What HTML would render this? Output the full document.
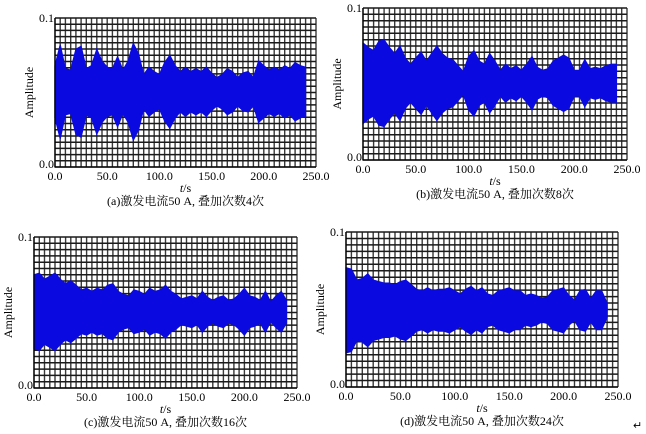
<!DOCTYPE html>
<html><head><meta charset="utf-8"><style>
html,body{margin:0;padding:0;background:#fff;}
svg{display:block;font-family:"Liberation Serif","Noto Serif CJK SC","Noto Sans CJK SC",serif;}
</style></head><body>
<svg id="fig" width="646" height="434" viewBox="0 0 646 434"></svg>
<script>
const tickValues=[0,50,100,150,200,250];
const times=[];for(let i=0;i<=48;i++)times.push(i*5);
const upperA=[.068,.082,.066,.065,.079,.081,.066,.068,.079,.071,.067,.066,.074,.065,.071,.083,.076,.062,.067,.064,.062,.070,.075,.068,.064,.067,.064,.066,.064,.067,.063,.060,.062,.066,.064,.060,.063,.064,.060,.071,.068,.065,.067,.065,.068,.066,.070,.068,.067];
const lowerA=[.033,.019,.035,.036,.022,.020,.035,.033,.022,.030,.034,.035,.027,.036,.030,.018,.025,.039,.034,.037,.039,.031,.026,.033,.037,.034,.037,.035,.037,.034,.038,.041,.039,.035,.037,.041,.038,.037,.041,.030,.033,.036,.034,.036,.033,.035,.031,.033,.034];
const upperB=[.077,.074,.072,.078,.079,.074,.070,.075,.067,.063,.067,.071,.065,.070,.075,.070,.067,.066,.062,.058,.068,.072,.065,.063,.070,.065,.059,.063,.060,.062,.059,.063,.068,.061,.059,.060,.065,.067,.069,.067,.059,.059,.066,.060,.061,.060,.062,.063,.063];
const lowerB=[.024,.027,.029,.023,.022,.027,.031,.026,.034,.038,.034,.030,.036,.031,.026,.031,.034,.035,.039,.043,.033,.029,.036,.038,.031,.036,.042,.038,.041,.039,.042,.038,.033,.040,.042,.041,.036,.034,.032,.034,.042,.042,.035,.041,.040,.041,.039,.038,.038];
const upperC=[.075,.076,.072,.074,.076,.072,.069,.071,.068,.065,.066,.064,.066,.065,.068,.069,.064,.062,.061,.065,.064,.062,.066,.064,.065,.068,.064,.062,.059,.060,.061,.059,.064,.060,.058,.060,.061,.058,.059,.062,.066,.061,.060,.058,.064,.057,.061,.064,.058];
const lowerC=[.026,.025,.029,.027,.025,.029,.032,.030,.033,.036,.035,.037,.035,.036,.033,.032,.037,.039,.040,.036,.037,.039,.035,.037,.036,.033,.037,.039,.042,.041,.040,.042,.037,.041,.043,.041,.040,.043,.042,.039,.035,.040,.041,.043,.037,.044,.040,.037,.043];
const upperD=[.077,.076,.069,.070,.073,.069,.068,.067,.067,.066,.068,.069,.066,.063,.062,.064,.062,.063,.063,.064,.062,.060,.063,.065,.062,.064,.060,.059,.062,.063,.064,.062,.062,.059,.060,.059,.057,.058,.062,.063,.064,.059,.056,.062,.063,.057,.062,.062,.054];
const lowerD=[.022,.023,.030,.029,.026,.030,.031,.032,.032,.033,.031,.030,.033,.036,.037,.035,.037,.036,.036,.035,.037,.039,.036,.034,.037,.035,.039,.040,.037,.036,.035,.037,.037,.040,.039,.040,.042,.041,.037,.036,.035,.040,.043,.037,.036,.042,.037,.037,.045];
const captions=["(a)激发电流50 A, 叠加次数4次","(b)激发电流50 A, 叠加次数8次","(c)激发电流50 A, 叠加次数16次","(d)激发电流50 A, 叠加次数24次"];
const panels=[
 {id:'a',l:55,t:18,r:316,b:167,up:upperA,lo:lowerA,cap:captions[0]},
 {id:'b',l:363,t:8,r:627,b:160,up:upperB,lo:lowerB,cap:captions[1]},
 {id:'c',l:34,t:237,r:297,b:388,up:upperC,lo:lowerC,cap:captions[2]},
 {id:'d',l:346,t:232,r:618,b:387,up:upperD,lo:lowerD,cap:captions[3]}];
const NS='http://www.w3.org/2000/svg';
const svg=document.getElementById('fig');
function mk(tag,attrs,parent,text){const e=document.createElementNS(NS,tag);for(const k in attrs)e.setAttribute(k,attrs[k]);if(text!==undefined)e.textContent=text;parent.appendChild(e);return e;}
panels.forEach(p=>{
 const g=mk('g',{},svg);
 
 
 const xs=v=>p.l+(v/250)*(p.r-p.l);
 const ys=v=>p.b-(v/0.1)*(p.b-p.t);
 let dv='',dh='';
 for(let i=0;i<=50;i++){const x=xs(i*5).toFixed(1);dv+=`M${x} ${p.t}V${p.b}`;}
 for(let j=0;j<=24;j++){const y=(p.b-j*(p.b-p.t)/24).toFixed(1);dh+=`M${p.l} ${y}H${p.r}`;}
 const gv=mk('path',{d:dv,stroke:'#3a3a3a','stroke-width':1.4,fill:'none'},g);
 
 
 const gh=mk('path',{d:dh,stroke:'#1a1a1a','stroke-width':1.5,fill:'none'},g);
 
 
 let pd='';
 times.forEach((t,i)=>{pd+=(i?'L':'M')+xs(t).toFixed(1)+' '+ys(p.up[i]).toFixed(1);});
 for(let i=times.length-1;i>=0;i--)pd+='L'+xs(times[i]).toFixed(1)+' '+ys(p.lo[i]).toFixed(1);
 pd+='Z';
 const sig=mk('path',{d:pd,fill:'#0a0ae0',stroke:'#0a0ae0','stroke-width':1.2},g);
 
 
 const ax=mk('path',{d:`M${p.l} ${p.t}V${p.b}H${p.r}`,stroke:'#000','stroke-width':1.3,fill:'none'},g);
 
 
 tickValues.forEach(v=>{
  const tx=mk('text',{x:xs(v),y:p.b+13,'font-size':12,'text-anchor':'middle'},g,v.toFixed(1));
  
  
 });
 const y1=mk('text',{x:p.l-1,y:p.t+4,'font-size':12,'text-anchor':'end'},g,'0.1');
 
 
 const y0=mk('text',{x:p.l-1,y:p.b+1,'font-size':12,'text-anchor':'end'},g,'0.0');
 
 
 const cy=(p.t+p.b)/2, cx=p.l-22;
 const yl=mk('text',{x:cx,y:cy,'font-size':12,'text-anchor':'middle',transform:`rotate(-90 ${cx} ${cy})`},g,'Amplitude');
 
 
 const xl=mk('text',{x:(p.l+p.r)/2,y:p.b+25,'font-size':12,'text-anchor':'middle'},g);
 
 
 mk('tspan',{'font-style':'italic'},xl,'t');mk('tspan',{},xl,'/s');
 const cp=mk('text',{x:(p.l+p.r)/2,y:p.b+38,'font-size':12,'text-anchor':'middle'},g,p.cap);
 
 
});
const rm=mk('text',{x:633,y:429,'font-size':11},svg,'↵');


</script>
</body></html>
